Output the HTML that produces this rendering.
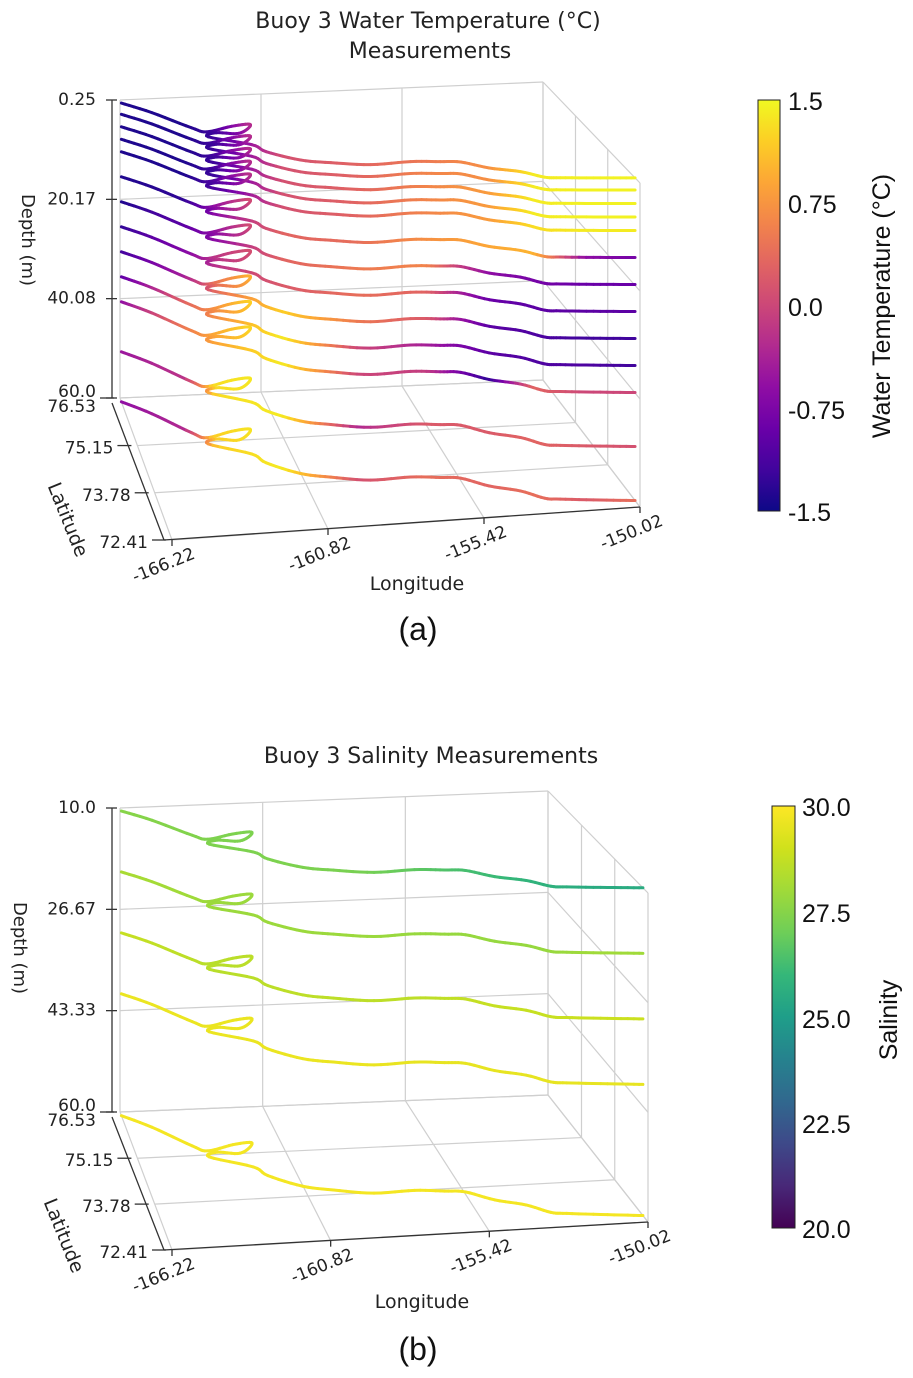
<!DOCTYPE html>
<html><head><meta charset="utf-8"><style>
body{margin:0;background:#fff;}
svg{display:block;}
text{font-family:"DejaVu Sans","Liberation Sans",sans-serif;fill:#222;}
.cb{font-family:"Liberation Sans",sans-serif;font-size:25px;fill:#111;}
.tk{font-size:17px;}
</style></head><body>
<svg id="s" width="913" height="1378" viewBox="0 0 913 1378">
<defs>
<linearGradient id="plasma" x1="0" y1="1" x2="0" y2="0">
<stop offset="0" stop-color="#0d0887"/><stop offset="0.1" stop-color="#41049d"/><stop offset="0.2" stop-color="#6a00a8"/><stop offset="0.3" stop-color="#8f0da4"/><stop offset="0.4" stop-color="#b12a90"/><stop offset="0.5" stop-color="#cc4778"/><stop offset="0.6" stop-color="#e16462"/><stop offset="0.7" stop-color="#f2844b"/><stop offset="0.8" stop-color="#fca636"/><stop offset="0.9" stop-color="#fcce25"/><stop offset="1" stop-color="#f0f921"/>
</linearGradient>
<linearGradient id="viridis" x1="0" y1="1" x2="0" y2="0">
<stop offset="0" stop-color="#440154"/><stop offset="0.1" stop-color="#482878"/><stop offset="0.2" stop-color="#3e4989"/><stop offset="0.3" stop-color="#31688e"/><stop offset="0.4" stop-color="#26828e"/><stop offset="0.5" stop-color="#1f9e89"/><stop offset="0.6" stop-color="#35b779"/><stop offset="0.7" stop-color="#6ece58"/><stop offset="0.8" stop-color="#a0da39"/><stop offset="0.9" stop-color="#d0e11c"/><stop offset="1" stop-color="#fde725"/>
</linearGradient>
</defs>
<text x="428" y="28" text-anchor="middle" font-size="22">Buoy 3 Water Temperature (°C)</text>
<text x="430" y="58" text-anchor="middle" font-size="22">Measurements</text>
<g id="ga"></g>
<text x="418" y="640" text-anchor="middle" class="cb" style="font-size:32px">(a)</text>
<rect x="758" y="100" width="22" height="411" fill="url(#plasma)" stroke="#222" stroke-width="1"/>
<g>
<text class="cb" x="788" y="110">1.5</text><text class="cb" x="788" y="213">0.75</text><text class="cb" x="788" y="316">0.0</text><text class="cb" x="788" y="419">-0.75</text><text class="cb" x="788" y="521">-1.5</text>
</g>
<text class="cb" transform="translate(890,306) rotate(-90)" text-anchor="middle">Water Temperature (°C)</text>

<text x="431" y="763" text-anchor="middle" font-size="22">Buoy 3 Salinity Measurements</text>
<g id="gb"></g>
<text x="418" y="1360" text-anchor="middle" class="cb" style="font-size:32px">(b)</text>
<rect x="772" y="806" width="23" height="422" fill="url(#viridis)" stroke="#222" stroke-width="1"/>
<g>
<text class="cb" x="802" y="816">30.0</text><text class="cb" x="802" y="922">27.5</text><text class="cb" x="802" y="1028">25.0</text><text class="cb" x="802" y="1133">22.5</text><text class="cb" x="802" y="1238">20.0</text>
</g>
<text class="cb" transform="translate(897,1020) rotate(-90)" text-anchor="middle">Salinity</text>
</svg>
<script>
// trajectory of buoy
const lons=[-166.22,-165.25,-164.07,-163.60,-162.59,-161.89,-162.12,-162.56,-163.26,-163.63,-162.23,-161.86,-160.83,-159.84,-158.51,-157.07,-156.06,-155.37,-154.56,-153.62,-152.97,-152.47,-151.16,-150.02];
const lats=[76.42,76.04,75.44,75.27,75.42,75.46,75.27,75.15,75.22,75.09,74.73,74.45,74.08,73.92,73.76,73.78,73.71,73.65,73.36,73.15,72.88,72.82,72.71,72.62];
// knot longitudes for colour values
const knotLons=[-166.22,-164.28,-163.30,-161.36,-158.93,-156.50,-154.56,-153.26,-151.64,-150.02];
const tempDepths=[0.25,2.5,5,7.5,10,15,20,25,30,35,40,50,60];
const tempVals=[
[-1.4,-1.4,-1.2,0.1,0.3,0.5,0.7,1.4,1.45,1.45],
[-1.4,-1.4,-1.2,0.1,0.3,0.6,0.7,1.4,1.45,1.45],
[-1.4,-1.4,-1.2,0.1,0.3,0.6,0.8,1.4,1.45,1.45],
[-1.4,-1.4,-1.2,0.1,0.3,0.6,0.8,1.4,1.45,1.45],
[-1.4,-1.4,-1.1,0.1,0.3,0.6,0.8,1.3,1.4,1.4],
[-1.4,-1.3,-0.6,0.3,0.4,0.7,0.9,1.0,-0.6,-0.8],
[-1.4,-1.0,-0.6,0.3,0.5,0.6,-0.6,-0.8,-0.9,-0.9],
[-1.3,-0.7,-0.2,0.2,0.4,0.3,-0.9,-1.0,-1.0,-1.0],
[-1.2,-0.4,0.4,1.2,0.5,0.2,-1.0,-1.1,-1.2,-1.2],
[-1.0,0.3,0.7,1.4,0.0,-0.4,-1.0,-1.1,-1.1,-1.2],
[-0.6,0.5,0.9,1.4,0.0,-0.1,-1.3,0.3,0.0,0.0],
[-0.5,-0.2,1.3,1.4,-0.3,0.2,0.2,0.3,0.2,0.1],
[-0.6,-0.3,1.2,1.4,0.1,0.4,0.3,0.4,0.2,0.4]];
const salDepths=[10,20,30,40,60];
const salVals=[
[27.5,27.4,27.3,27.3,27.2,26.6,26.1,25.8,25.5,25.5],
[28.2,28.0,27.9,27.9,27.9,27.8,27.8,27.8,28.0,28.0],
[28.8,28.6,28.5,28.6,28.6,28.6,28.8,28.8,28.9,28.9],
[29.6,29.6,29.6,29.6,29.6,29.5,29.5,29.5,29.5,29.5],
[29.8,29.8,29.8,29.8,29.8,29.8,29.8,29.8,29.8,29.8]];
const lonTicks=["-166.22","-160.82","-155.42","-150.02"];
const latTicks=["76.53","75.15","73.78","72.41"];
const tempDepthTicks=["0.25","20.17","40.08","60.0"];
const salDepthTicks=["10.0","26.67","43.33","60.0"];

const NS='http://www.w3.org/2000/svg';
function mk(tag,attrs,parent){const e=document.createElementNS(NS,tag);for(const k in attrs)e.setAttribute(k,attrs[k]);parent.appendChild(e);return e;}
function lerpHex(a,b,t){const pa=[1,3,5].map(i=>parseInt(a.substr(i,2),16)),pb=[1,3,5].map(i=>parseInt(b.substr(i,2),16));return 'rgb('+pa.map((v,i)=>Math.round(v+(pb[i]-v)*t)).join(',')+')';}
function cmap(stops,t){t=Math.max(0,Math.min(1,t));const n=stops.length-1;const i=Math.min(n-1,Math.floor(t*n));return lerpHex(stops[i],stops[i+1],t*n-i);}
const plasma=['#0d0887','#41049d','#6a00a8','#8f0da4','#b12a90','#cc4778','#e16462','#f2844b','#fca636','#fcce25','#f0f921'];
const viridis=['#440154','#482878','#3e4989','#31688e','#26828e','#1f9e89','#35b779','#6ece58','#a0da39','#d0e11c','#fde725'];
function interp(xs,ys,x){if(x<=xs[0])return ys[0];for(let i=1;i<xs.length;i++){if(x<=xs[i]){const t=(x-xs[i-1])/(xs[i]-xs[i-1]);return ys[i-1]+(ys[i]-ys[i-1])*t;}}return ys[ys.length-1];}
// Catmull-Rom densified path
function dense(){const out=[];const n=lons.length;const S=6;
  for(let i=0;i<n-1;i++){const i0=Math.max(0,i-1),i3=Math.min(n-1,i+2);
    for(let s=0;s<S;s++){const t=s/S,t2=t*t,t3=t2*t;
      const f=(a,b,c,d)=>0.5*((2*b)+(-a+c)*t+(2*a-5*b+4*c-d)*t2+(-a+3*b-3*c+d)*t3);
      out.push([f(lons[i0],lons[i],lons[i+1],lons[i3]),f(lats[i0],lats[i],lats[i+1],lats[i3])]);}}
  out.push([lons[n-1],lats[n-1]]);return out;}

function makeChart(g,cfg){
  const lon0=-166.22,lon1=-150.02,lat0=76.53,lat1=72.41;
  function proj(lon,lat,d){
    const u=(lon-lon0)/(lon1-lon0), v=(lat0-lat)/(lat0-lat1);
    const c=cfg.c;
    const x=(1-u)*(1-v)*c.BL[0]+u*(1-v)*c.BR[0]+(1-u)*v*c.FL[0]+u*v*c.FR[0];
    let y=(1-u)*(1-v)*c.BL[1]+u*(1-v)*c.BR[1]+(1-u)*v*c.FL[1]+u*v*c.FR[1];
    y-=(cfg.dmax-d)/(cfg.dmax-cfg.dmin)*(cfg.H0+cfg.Hk*v);
    return [x,y];
  }
  const grid={stroke:'#cfcfcf','stroke-width':1.2,fill:'none'};
  function line(p,q,name,st){const l=mk('line',Object.assign({x1:p[0],y1:p[1],x2:q[0],y2:q[1]},st||grid),g);return l;}
  const lonT=lonTicks.map(Number), latT=latTicks.map(Number);
  const dT=cfg.dticks.map(Number);
  for(let i=0;i<4;i++){line(proj(lonT[i],lat0,cfg.dmax),proj(lonT[i],lat1,cfg.dmax),'floor-lon-gridline');}
  for(let i=0;i<4;i++){line(proj(lon0,latT[i],cfg.dmax),proj(lon1,latT[i],cfg.dmax),'floor-lat-gridline');}
  for(let i=0;i<4;i++){line(proj(lonT[i],lat0,cfg.dmin),proj(lonT[i],lat0,cfg.dmax),'back-wall-vgridline');}
  for(let i=0;i<4;i++){line(proj(lon0,lat0,dT[i]),proj(lon1,lat0,dT[i]),'back-wall-hgridline');}
  for(let i=0;i<4;i++){line(proj(lon1,latT[i],cfg.dmin),proj(lon1,latT[i],cfg.dmax),'right-wall-vgridline');}
  for(let i=0;i<4;i++){line(proj(lon1,lat0,dT[i]),proj(lon1,lat1,dT[i]),'right-wall-hgridline');}
  const ax={stroke:'#333','stroke-width':1.3};
  const a0=proj(lon0,lat0,cfg.dmin),a1=proj(lon0,lat0,cfg.dmax);
  line([a0[0]-8,a0[1]],[a1[0]-8,a1[1]],'depth-axis',ax);
  const l0=proj(lon0,lat0,cfg.dmax),l1=proj(lon0,lat1,cfg.dmax);
  line([l0[0]-8,l0[1]+5],[l1[0]-8,l1[1]],'latitude-axis',ax);
  const f0=proj(lon0,lat1,cfg.dmax),f1=proj(lon1,lat1,cfg.dmax);
  line([f0[0]-8,f0[1]],[f1[0],f1[1]],'longitude-axis',ax);
  dT.forEach((d,i)=>{const p=proj(lon0,lat0,d);line([p[0]-14,p[1]],[p[0]-3,p[1]],'depth-tick',ax);
    const t=mk('text',{x:p[0]-24,y:p[1]+(i==3?-1:5),'text-anchor':'end',class:'tk'},g);t.textContent=cfg.dticks[i];});
  latT.forEach((la,i)=>{const p=proj(lon0,la,cfg.dmax);line([p[0]-20,p[1]],[p[0]-6,p[1]],'latitude-tick',ax);
    const t=mk('text',{x:p[0]-24,y:p[1]+(i==0?14:8),'text-anchor':'end',class:'tk'},g);t.textContent=latTicks[i];});
  lonT.forEach((lo,i)=>{const p=proj(lo,lat1,cfg.dmax);line([p[0],p[1]],[p[0],p[1]+6],'longitude-tick',ax);
    const t=mk('text',{x:p[0]+24,y:p[1]+18,'text-anchor':'end',class:'tk',transform:`rotate(-22 ${p[0]+24} ${p[1]+18})`},g);t.textContent=lonTicks[i];});
  let t=mk('text',{x:cfg.lonLab[0],y:cfg.lonLab[1],'text-anchor':'middle','font-size':19},g);t.textContent='Longitude';
  t=mk('text',{x:0,y:0,'text-anchor':'middle','font-size':19,transform:`translate(${cfg.latLab[0]},${cfg.latLab[1]}) rotate(68)`},g);t.textContent='Latitude';
  t=mk('text',{x:0,y:0,'text-anchor':'middle','font-size':18,transform:`translate(${cfg.depLab[0]},${cfg.depLab[1]}) rotate(90)`},g);t.textContent='Depth (m)';
  const pts=dense();
  cfg.depths.forEach((d,k)=>{
    const sg=mk('g',{},g);
    
    
    for(let i=0;i<pts.length-1;i++){
      const val=interp(knotLons,cfg.vals[k],(pts[i][0]+pts[i+1][0])/2);
      const p=proj(pts[i][0],pts[i][1],d),q=proj(pts[i+1][0],pts[i+1][1],d);
      const seg=mk('line',{x1:p[0],y1:p[1],x2:q[0],y2:q[1],stroke:cmap(cfg.cm,(val-cfg.vmin)/(cfg.vmax-cfg.vmin)),'stroke-width':3,'stroke-linecap':'round'},sg);
      
      
    }
  });
}
makeChart(document.getElementById('ga'),{c:{BL:[120,398],BR:[543,380],FL:[172,540],FR:[640,507]},dmin:0.25,dmax:60,H0:298,Hk:26,
  dticks:tempDepthTicks,depths:tempDepths,vals:tempVals,cm:plasma,vmin:-1.5,vmax:1.5,lonLab:[417,590],latLab:[62,522],depLab:[22,240]});
makeChart(document.getElementById('gb'),{c:{BL:[120,1112],BR:[548,1095],FL:[172,1250],FR:[648,1222]},dmin:10,dmax:60,H0:304,Hk:25,
  dticks:salDepthTicks,depths:salDepths,vals:salVals,cm:viridis,vmin:20,vmax:30,lonLab:[422,1308],latLab:[58,1238],depLab:[14,948]});
</script>
</body></html>
